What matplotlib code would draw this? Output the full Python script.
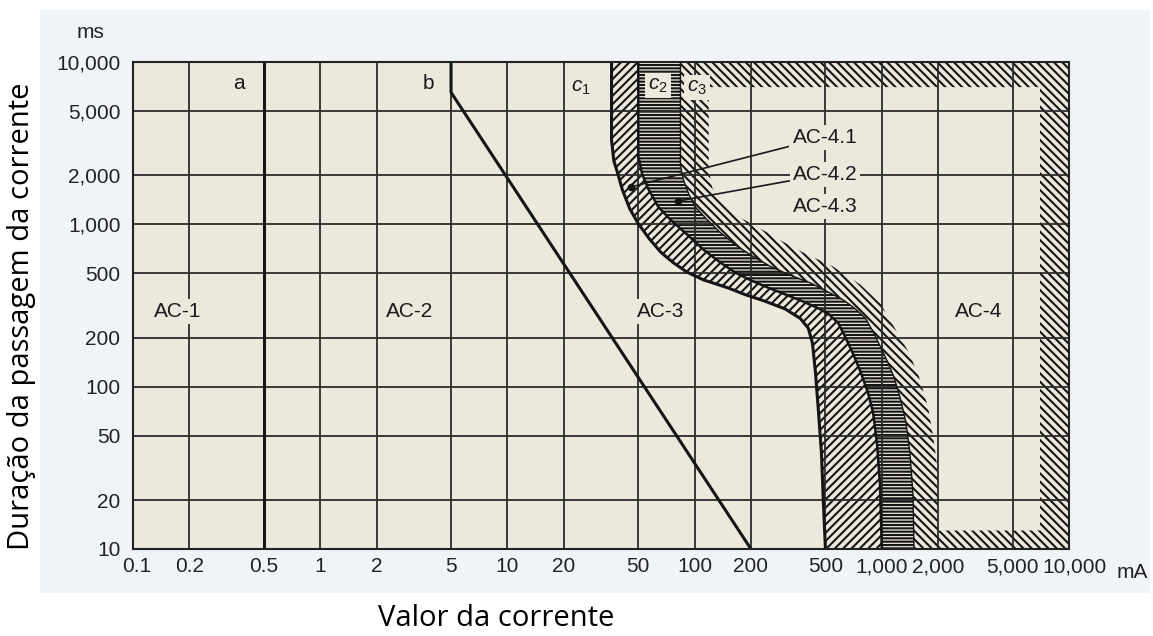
import numpy as np
import matplotlib.pyplot as plt
from matplotlib.patches import Polygon, Rectangle
from matplotlib.ticker import FixedLocator, FixedFormatter, NullLocator
from matplotlib.transforms import ScaledTranslation

plt.rcParams['font.family'] = ['Liberation Sans', 'DejaVu Sans']
plt.rcParams['mathtext.fontset'] = 'custom'
plt.rcParams['mathtext.it'] = 'Liberation Sans:italic'
plt.rcParams['mathtext.rm'] = 'Liberation Sans'
plt.rcParams['hatch.linewidth'] = 1.5

# axis ticks
x_ticks = [0.1, 0.2, 0.5, 1, 2, 5, 10, 20, 50, 100, 200, 500, 1000, 2000, 5000, 10000]
x_labels = ['0.1', '0.2', '0.5', '1', '2', '5', '10', '20', '50', '100', '200',
            '500', '1,000', '2,000', '5,000', '10,000']
y_ticks = [10, 20, 50, 100, 200, 500, 1000, 2000, 5000, 10000]
y_labels = ['10', '20', '50', '100', '200', '500', '1,000', '2,000', '5,000', '10,000']

# boundary lines (mA, ms)
a_x = [0.5, 0.5]
a_y = [10, 10000]
b_x = [5, 5, 200]
b_y = [10000, 6500, 10]

c1_x = [36, 36, 37, 39, 41, 45, 50, 57, 66, 77, 91, 112, 150, 185, 238, 305, 367, 405,
        426, 442, 459, 476, 488, 500]
c1_y = [10000, 3310, 2470, 2030, 1650, 1250, 1010, 820, 673, 580, 508, 454, 407, 370,
        336, 301, 263, 229, 186, 123, 70, 39, 18.7, 10]

c2_x = [50, 50, 52.5, 56.6, 64, 75, 93, 112, 135, 163, 198, 247, 305, 376, 453, 519, 587,
        641, 698, 771, 841, 897, 942, 978, 1000]
c2_y = [10000, 2640, 2030, 1650, 1280, 1057, 848, 695, 590, 508, 454, 407, 370, 336, 306,
        281, 245, 200, 162, 123, 93, 70, 45, 25, 10]

c3_x = [84, 84, 87, 93, 101, 115, 135, 163, 202, 253, 324, 415, 513, 625, 725, 820, 906,
        988, 1077, 1160, 1250, 1346, 1414, 1468, 1486]
c3_y = [10000, 2310, 1890, 1540, 1280, 1086, 906, 755, 641, 552, 486, 436, 385, 341, 301,
        263, 214, 174, 141, 115, 86.5, 60.4, 38.9, 21.5, 10]

# outer edge of the hatched AC-4 border strip
edge_x = [119, 119, 124, 134, 150, 179, 238, 345, 545, 771, 988, 1189, 1396, 1580, 1766,
          1903, 2000, 2000]
edge_y = [10000, 2170, 1690, 1430, 1250, 1086, 906, 707, 552, 424, 323, 223, 162, 115, 75,
          45, 28.9, 10]
frame_top = 7000
frame_bottom = 13
frame_right = 7000

bg = '#ebe8dc'
panel = '#f0f4f8'
ink = '#151515'

fig = plt.figure(figsize=(11.53, 6.36), dpi=100)
fig.patches.append(Rectangle((40 / 1153, 1 - 593 / 636), 1110 / 1153, 583 / 636,
                             transform=fig.transFigure, fc=panel, ec='none', zorder=-5))
ax = fig.add_axes([133 / 1153, 1 - 549 / 636, 936 / 1153, 487 / 636])
ax.set_facecolor(bg)
ax.set_xscale('log')
ax.set_yscale('log')
ax.set_xlim(0.1, 10000)
ax.set_ylim(10, 10000)

ax.xaxis.set_major_locator(FixedLocator(x_ticks))
ax.xaxis.set_major_formatter(FixedFormatter(x_labels))
ax.yaxis.set_major_locator(FixedLocator(y_ticks))
ax.yaxis.set_major_formatter(FixedFormatter(y_labels))
ax.xaxis.set_minor_locator(NullLocator())
ax.yaxis.set_minor_locator(NullLocator())
ax.tick_params(axis='both', length=0, labelsize=15, colors='#222222')
ax.tick_params(axis='x', pad=6)
ax.tick_params(axis='y', pad=9)
ax.grid(True, color='#2b2b2b', lw=1.3)
for s in ax.spines.values():
    s.set_color('#222222')
    s.set_linewidth(1.5)

# nudge the first and last x labels apart from their neighbours
fig.canvas.draw()
xl = ax.get_xticklabels()
xl[-1].set_transform(xl[-1].get_transform() + ScaledTranslation(6 / 100, 0, fig.dpi_scale_trans))
xl[0].set_transform(xl[0].get_transform() + ScaledTranslation(4 / 100, 0, fig.dpi_scale_trans))

# hatched zones
band1 = list(zip(c1_x, c1_y)) + list(zip(c2_x[::-1], c2_y[::-1]))
ax.add_patch(Polygon(band1, closed=True, fc=bg, ec=ink, lw=0, hatch='////', zorder=1))
band2 = list(zip(c2_x, c2_y)) + list(zip(c3_x[::-1], c3_y[::-1]))
ax.add_patch(Polygon(band2, closed=True, fc=bg, ec=ink, lw=0, hatch='-----', zorder=1))
outer = list(zip(c3_x, c3_y)) + [(10000, 10), (10000, 10000)]
ax.add_patch(Polygon(outer, closed=True, fc=bg, ec=ink, lw=0, hatch='\\\\\\\\', zorder=1))
inner_y = np.clip(edge_y, frame_bottom, frame_top)
inner = list(zip(edge_x, inner_y)) + [(frame_right, frame_bottom), (frame_right, frame_top)]
ax.add_patch(Polygon(inner, closed=True, fc=bg, ec='none', lw=0, zorder=1.2))

# curves
ax.plot(a_x, a_y, color=ink, lw=2.2, zorder=2)
ax.plot(b_x, b_y, color=ink, lw=2.2, zorder=2)
ax.plot(c1_x, c1_y, color=ink, lw=2.2, zorder=2, solid_joinstyle='round')
ax.plot(c2_x, c2_y, color=ink, lw=1.8, zorder=2, solid_joinstyle='round')
ax.plot(c3_x, c3_y, color=ink, lw=1.0, zorder=2, solid_joinstyle='round')

box = dict(boxstyle='square,pad=0.15', fc=bg, ec='none')
tk = dict(fontsize=15, color='#1a1a1a', ha='center', va='center', zorder=4)
ax.text(0.37, 7350, 'a', **tk)
ax.text(3.8, 7350, 'b', **tk)
ax.text(24.8, 7000, r'$c_1$', **tk)
ax.text(64, 7200, r'$c_2$', bbox=box, **tk)
ax.text(103, 7000, r'$c_3$', bbox=box, **tk)
ax.text(0.173, 289, 'AC-1', bbox=box, **tk)
ax.text(3.0, 289, 'AC-2', bbox=box, **tk)
ax.text(65.6, 289, 'AC-3', bbox=box, **tk)
ax.text(3300, 289, 'AC-4', bbox=box, **tk)

# AC-4.x labels with leaders
lead = dict(arrowstyle='-', lw=1.2, color='#1a1a1a', shrinkA=0, shrinkB=0)
ax.annotate('AC-4.1', xy=(45.7, 1700), xytext=(497, 3440), arrowprops=lead, bbox=box, **tk)
ax.annotate('AC-4.2', xy=(82, 1393), xytext=(497, 2030), arrowprops=lead, bbox=box, **tk)
ax.text(497, 1282, 'AC-4.3', bbox=box, **tk)
ax.plot([45.7, 82], [1700, 1393], 'o', color=ink, ms=4.5, zorder=4)

# units and axis titles
fig.text(90 / 1153, 1 - 32 / 636, 'ms', fontsize=15, color='#222222', ha='center', va='center')
fig.text(1132 / 1153, 1 - 573 / 636, 'mA', fontsize=15, color='#222222', ha='center', va='center')
fig.text(22 / 1153, 1 - 316 / 636, 'Duração da passagem da corrente', rotation=90,
         fontsize=21, family=['Open Sans', 'DejaVu Sans'], ha='center', va='center')
fig.text(496 / 1153, 1 - 618 / 636, 'Valor da corrente',
         fontsize=21, family=['Open Sans', 'DejaVu Sans'], ha='center', va='center')

fig.savefig('out.png', dpi=100, facecolor='white')
